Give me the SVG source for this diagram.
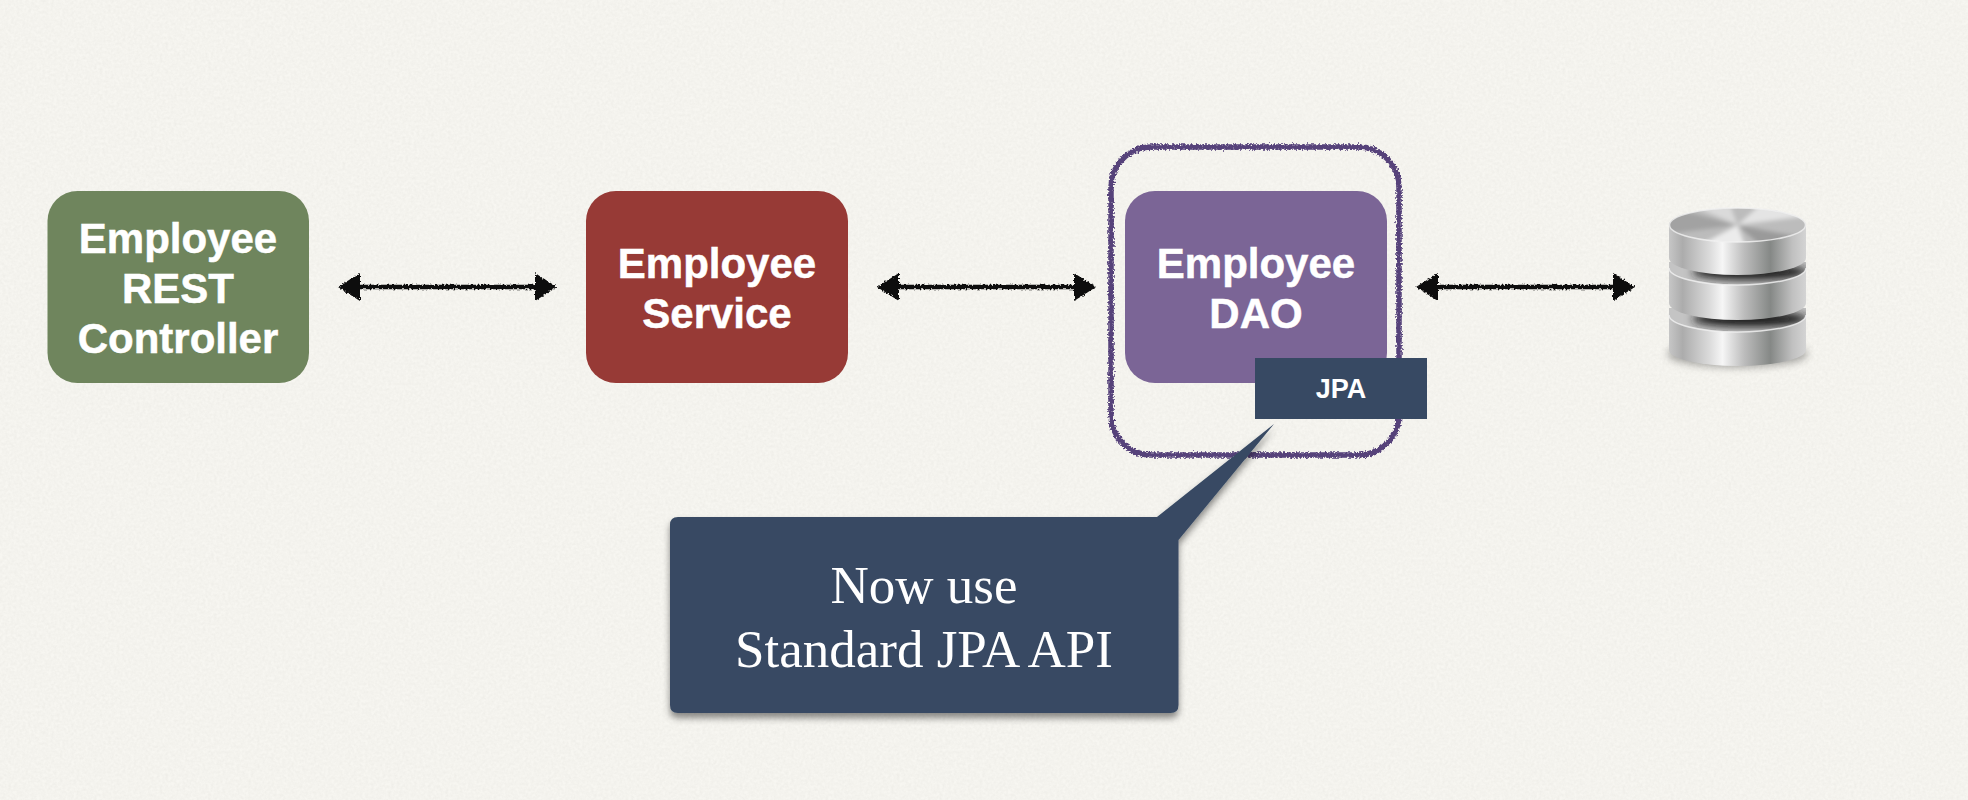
<svg xmlns="http://www.w3.org/2000/svg" width="1968" height="800" viewBox="0 0 1968 800">
<style>
.box-text{font-family:"Liberation Sans",Arial,sans-serif;font-weight:700;font-size:42px;fill:#fff;text-anchor:middle;stroke:#fff;stroke-width:.5}
.jpa-text{font-family:"Liberation Sans",Arial,sans-serif;font-weight:700;font-size:27px;fill:#fff;text-anchor:middle}
.call-text{font-family:"Liberation Serif","Times New Roman",serif;font-size:53px;fill:#fff;text-anchor:middle}
.arrow{fill:none;stroke:#0c0c0c;stroke-width:4.500;marker-start:url(#head);marker-end:url(#head)}
.side{fill:url(#metal)}
.rim{fill:none;stroke:#f2f2f2;stroke-width:1.5;opacity:.8}
</style>
<defs>
<filter id="paper" filterUnits="userSpaceOnUse" x="0" y="0" width="1968" height="800">
<feTurbulence type="fractalNoise" baseFrequency="0.35" numOctaves="3" seed="4"/>
<feColorMatrix type="matrix" values="0 0 0 0 0.55  0 0 0 0 0.54  0 0 0 0 0.5  0.16 0.16 0 0 -0.1"/>
</filter>
<filter id="rough" filterUnits="userSpaceOnUse" x="0" y="0" width="1968" height="800">
<feTurbulence type="fractalNoise" baseFrequency="0.5" numOctaves="2" seed="7" result="n"/>
<feDisplacementMap in="SourceGraphic" in2="n" scale="4.5" xChannelSelector="R" yChannelSelector="G"/>
</filter>
<filter id="chalk" filterUnits="userSpaceOnUse" x="0" y="0" width="1968" height="800">
<feTurbulence type="fractalNoise" baseFrequency="0.55" numOctaves="2" seed="11" result="n"/>
<feDisplacementMap in="SourceGraphic" in2="n" scale="5.5" xChannelSelector="R" yChannelSelector="G"/>
</filter>
<filter id="shadow" x="-5%" y="-5%" width="110%" height="115%">
<feDropShadow dx="0" dy="5" stdDeviation="3.500" flood-color="#000" flood-opacity=".45"/>
</filter>
<filter id="soft" x="-30%" y="-30%" width="160%" height="160%"><feGaussianBlur stdDeviation="2"/></filter>
<filter id="soft2" x="-30%" y="-80%" width="160%" height="260%"><feGaussianBlur stdDeviation="4"/></filter>
<marker id="head" viewBox="0 0 22 30" refX="3" refY="15" markerWidth="22" markerHeight="30" markerUnits="userSpaceOnUse" orient="auto-start-reverse">
<path d="M0 1 L22 15 L0 29 Z" fill="#0c0c0c"/>
</marker>
<linearGradient id="metal" x1="0" y1="0" x2="1" y2="0">
<stop offset="0" stop-color="#c6c6c6"/>
<stop offset=".1" stop-color="#acacac"/>
<stop offset=".3" stop-color="#dcdcdc"/>
<stop offset=".39" stop-color="#f6f6f6"/>
<stop offset=".55" stop-color="#bcbcbc"/>
<stop offset=".74" stop-color="#858886"/>
<stop offset=".9" stop-color="#c0c0c0"/>
<stop offset="1" stop-color="#d4d4d4"/>
</linearGradient>
<clipPath id="topclip"><ellipse cx="1737.5" cy="225" rx="68.5" ry="17"/></clipPath>
<clipPath id="face2"><path d="M1669 262 H1806 V268 A68.5 17 0 0 1 1669 268 Z"/></clipPath>
<clipPath id="face3"><path d="M1669 308 H1806 V315 A68.5 17 0 0 1 1669 315 Z"/></clipPath>
</defs>

<rect id="background" width="1968" height="800" fill="#f7f6f1"/>
<rect id="grain" width="1968" height="800" filter="url(#paper)"/>

<g id="connectors" filter="url(#rough)">
<line class="arrow" x1="357" y1="287" x2="538" y2="287"/>
<line class="arrow" x1="896" y1="287" x2="1077" y2="287"/>
<line class="arrow" x1="1435" y1="287" x2="1616" y2="287"/>
</g>

<g id="node-controller">
<rect x="47.5" y="191" width="261.500" height="192" rx="30" fill="#6f855d"/>
<text class="box-text" x="178" y="252.500">Employee</text>
<text class="box-text" x="178" y="302.500">REST</text>
<text class="box-text" x="178" y="352.500">Controller</text>
</g>

<g id="node-service">
<rect x="586" y="191" width="262" height="192" rx="30" fill="#973a36"/>
<text class="box-text" x="717" y="277.500">Employee</text>
<text class="box-text" x="717" y="327.500">Service</text>
</g>

<g id="node-dao">
<rect x="1125" y="191" width="262" height="192" rx="30" fill="#7b6596"/>
<text class="box-text" x="1256" y="277.500">Employee</text>
<text class="box-text" x="1256" y="327.500">DAO</text>
</g>

<g id="node-highlight" filter="url(#chalk)">
<rect x="1111" y="147" width="288" height="308" rx="40" fill="none" stroke="#56427a" stroke-width="5.500"/>
</g>

<g id="node-jpa">
<rect x="1255" y="358" width="172" height="61" fill="#374963"/>
<text class="jpa-text" x="1341" y="398">JPA</text>
</g>

<g id="node-callout">
<path d="M678 517 L1157 517 L1274 424 L1178.500 540 L1178.500 705 Q1178.500 713 1170.500 713 L678 713 Q670 713 670 705 L670 525 Q670 517 678 517 Z" fill="#374963" filter="url(#shadow)"/>
<text class="call-text" x="924" y="603">Now use</text>
<text class="call-text" x="924" y="667">Standard JPA API</text>
</g>

<g id="node-database">
<ellipse cx="1737.500" cy="354" rx="70" ry="13" fill="#000" opacity=".35" filter="url(#soft2)"/>
<path class="side" d="M1669 315 V350 A68.500 16 0 0 0 1806 350 V315 Z"/>
<path d="M1669 308 H1806 V315 A68.500 17 0 0 1 1669 315 Z" fill="#c4c4c4"/>
<g clip-path="url(#face3)"><ellipse cx="1750" cy="319" rx="58" ry="8" fill="#1c1c1c" filter="url(#soft2)"/></g>
<path class="rim" d="M1669 315 A68.500 17 0 0 0 1806 315"/>
<path class="side" d="M1669 268 V303 A68.500 17 0 0 0 1806 303 V268 Z"/>
<path d="M1669 262 H1806 V268 A68.500 17 0 0 1 1669 268 Z" fill="#c4c4c4"/>
<g clip-path="url(#face2)"><ellipse cx="1750" cy="272" rx="58" ry="8" fill="#1c1c1c" filter="url(#soft2)"/></g>
<path class="rim" d="M1669 268 A68.500 17 0 0 0 1806 268"/>
<path class="side" d="M1669 225 V258 A68.500 17 0 0 0 1806 258 V225 Z"/>
<ellipse cx="1737.500" cy="225" rx="68.500" ry="17" fill="#bcbcbc"/>
<g clip-path="url(#topclip)">
<g filter="url(#soft)">
<path d="M1737.500 225 L1660 205 L1660 235 Z" fill="#a2a2a2"/>
<path d="M1737.500 225 L1745 245 L1700 245 Z" fill="#ececec"/>
<path d="M1737.500 225 L1815 240 L1760 245 Z" fill="#9a9a9a"/>
<path d="M1737.500 225 L1760 205 L1815 215 Z" fill="#e4e4e4"/>
<path d="M1737.500 225 L1690 205 L1730 205 Z" fill="#dadada"/>
</g>
</g>
<ellipse class="rim" cx="1737.500" cy="225" rx="68" ry="17"/>
</g>
</svg>
